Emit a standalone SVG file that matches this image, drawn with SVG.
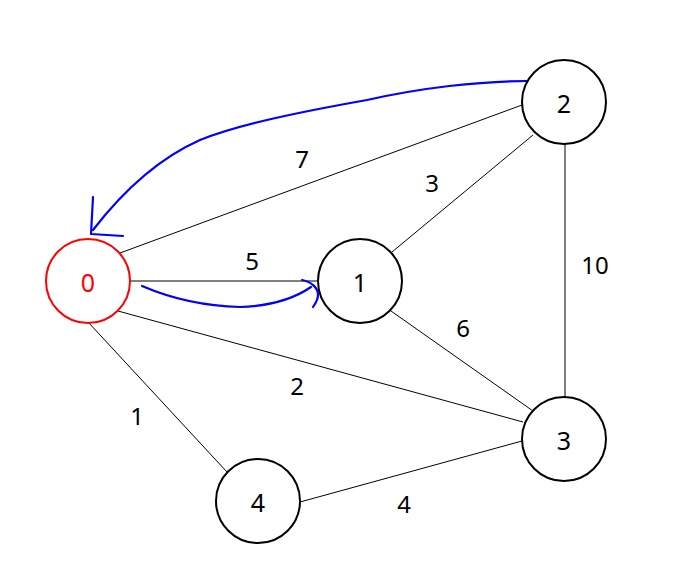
<svg xmlns="http://www.w3.org/2000/svg" width="680" height="566" viewBox="0 0 680 566">
<style>
.node{fill:#fff;stroke:#000;stroke-width:2}
.start{fill:#fff;stroke:#ff0000;stroke-width:2}
.lbl{font-family:"Noto Sans","Open Sans","DejaVu Sans",sans-serif;font-size:25px;text-anchor:middle;dominant-baseline:central;fill:#000}
.edge{stroke:#000;stroke-width:1;fill:none}
.wt{font-family:"Noto Sans","Open Sans","DejaVu Sans",sans-serif;font-size:24px;text-anchor:middle;dominant-baseline:central;fill:#000}
.blue{stroke:#0000ff;stroke-width:2.2;fill:none;stroke-linecap:round;stroke-linejoin:round}
</style>
<rect width="680" height="566" fill="#fff"/>
<g id="connectors">
<line class="edge" x1="120" y1="253" x2="522" y2="105"/>
<line class="edge" x1="130" y1="281" x2="318" y2="281"/>
<line class="edge" x1="392" y1="252" x2="533" y2="135"/>
<line class="edge" x1="565" y1="143" x2="565" y2="398"/>
<line class="edge" x1="391" y1="311" x2="533" y2="411"/>
<line class="edge" x1="118" y1="311" x2="523" y2="422"/>
<line class="edge" x1="88" y1="322" x2="227" y2="472"/>
<line class="edge" x1="300" y1="502" x2="522" y2="441"/>
<path class="blue" d="M527,81 C480,81 420,88 367,100 C300,112 240,124 200,140 C155,160 120,195 93,230"/>
<path class="blue" d="M93,197 L91,234 L123,236"/>
<path class="blue" d="M142,286 C170,298 200,306 240,307 C270,306 295,298 311,287"/>
<path class="blue" d="M302,280 C312,282 318,288 318,295 C318,300 315,304 313,307"/>
</g>
<g id="weights">
<text class="wt" x="302" y="158">7</text>
<text class="wt" x="432" y="182">3</text>
<text class="wt" x="252" y="260">5</text>
<text class="wt" x="595" y="264">10</text>
<text class="wt" x="463" y="327">6</text>
<text class="wt" x="297" y="385">2</text>
<text class="wt" x="137" y="415">1</text>
<text class="wt" x="404" y="503">4</text>
</g>
<g id="node0"><circle class="start" cx="88" cy="281" r="42"/><text class="lbl" x="88" y="282" style="fill:#ff0000">0</text></g>
<g id="node1"><circle class="node" cx="360" cy="281" r="42"/><text class="lbl" x="360" y="282">1</text></g>
<g id="node2"><circle class="node" cx="564" cy="102" r="42"/><text class="lbl" x="564" y="103">2</text></g>
<g id="node3"><circle class="node" cx="564" cy="439" r="42"/><text class="lbl" x="564" y="440">3</text></g>
<g id="node4"><circle class="node" cx="258" cy="501" r="42"/><text class="lbl" x="258" y="502">4</text></g>
</svg>
